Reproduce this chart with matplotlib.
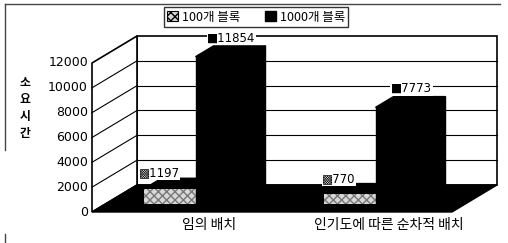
import matplotlib
matplotlib.use("Agg")
import matplotlib.pyplot as plt
from matplotlib.patches import Polygon, Patch

plt.rcParams['font.family'] = ['Noto Sans CJK KR', 'DejaVu Sans']

# data
categories = ['임의 배치', '인기도에 따른 순차적 배치']
series_names = ['100개 블록', '1000개 블록']
blocks_100 = [1197, 770]
blocks_1000 = [11854, 7773]
y_ticks = [0, 2000, 4000, 6000, 8000, 10000, 12000]

# geometry (x in pixels, y in value units)
VPP = 12000 / 149.0          # value per pixel
X0, CAT_W, BW = 92, 180, 52
DX, DY = 45, 27 * VPP        # depth offset
D0, D1 = 0.3, 0.7            # bar depth range
YMAX = 12000

fig = plt.figure(figsize=(5.08, 2.43), dpi=100)
ax = fig.add_axes([0, 0, 1, 1])
ax.set_xlim(0, 508)
ax.set_ylim(-(243 - 212) * VPP, 212 * VPP)
ax.axis('off')

x_right = X0 + CAT_W * len(categories)

# walls
ax.add_patch(Polygon([(X0 + DX, DY), (x_right + DX, DY), (x_right + DX, YMAX + DY),
                      (X0 + DX, YMAX + DY)], closed=True, fc='white', ec='black', lw=1.2))
ax.add_patch(Polygon([(X0, 0), (X0 + DX, DY), (X0 + DX, YMAX + DY), (X0, YMAX)],
                     closed=True, fc='white', ec='black', lw=1.2))
for v in y_ticks[1:-1]:
    ax.plot([X0 + DX, x_right + DX], [v + DY, v + DY], color='black', lw=0.8)
    ax.plot([X0, X0 + DX], [v, v + DY], color='black', lw=0.8)
# floor
ax.add_patch(Polygon([(X0, 0), (x_right, 0), (x_right + DX, DY), (X0 + DX, DY)],
                     closed=True, fc='black', ec='black'))

# y tick labels
for v in y_ticks:
    ax.text(X0 - 4, v, str(v), ha='right', va='center', fontsize=9, family='DejaVu Sans')
ax.text(25, (212 - 108) * VPP, '소\n요\n시\n간', ha='center', va='center',
        fontsize=8.5, linespacing=1.4, fontweight='bold')


def draw_bar(x, v, front_style):
    fx, fy = x + D0 * DX, D0 * DY
    bx, by = x + D1 * DX, D1 * DY
    ax.add_patch(Polygon([(fx + BW, fy), (bx + BW, by), (bx + BW, v + by), (fx + BW, v + fy)],
                         closed=True, fc='black', ec='black'))
    ax.add_patch(Polygon([(fx, v + fy), (fx + BW, v + fy), (bx + BW, v + by), (bx, v + by)],
                         closed=True, fc='black', ec='black'))
    ax.add_patch(Polygon([(fx, fy), (fx + BW, fy), (fx + BW, v + fy), (fx, v + fy)],
                         closed=True, **front_style))


style_100 = dict(fc='#d8d8d8', ec='#777777', hatch='xxxx', lw=0)
style_1000 = dict(fc='black', ec='black')

for i, cat in enumerate(categories):
    x_cat = X0 + i * CAT_W + (CAT_W - 2 * BW) / 2
    draw_bar(x_cat, blocks_100[i], style_100)
    draw_bar(x_cat + BW, blocks_1000[i], style_1000)

    # value labels
    v0 = blocks_100[i]
    ax.text(x_cat + BW / 2 + 3, v0 + D1 * DY + 5 * VPP, '▩' + str(v0), ha='center', va='center',
            fontsize=8.5, family='DejaVu Sans',
            bbox=dict(fc='white', ec='none', pad=0.5))
    v1 = blocks_1000[i]
    ax.text(x_cat + BW + BW / 2 + D0 * DX + 10, v1 + D1 * DY + 8 * VPP, '■' + str(v1),
            ha='center', va='center', fontsize=8.5, family='DejaVu Sans',
            bbox=dict(fc='white', ec='none', pad=0.5))

    # category labels
    ax.text(X0 + i * CAT_W + CAT_W / 2 + 0.6 * DX, -13 * VPP, cat, ha='center', va='center',
            fontsize=10)

# legend
handles = [Patch(fc='#d8d8d8', ec='black', hatch='xxxx', lw=0.8),
           Patch(fc='black', ec='black')]
fig.legend(handles, series_names, loc='center', bbox_to_anchor=(256 / 508, 1 - 17 / 243),
           ncol=2, fontsize=9, frameon=True, fancybox=False, edgecolor='black',
           handlelength=0.9, handleheight=0.9, handletextpad=0.3, columnspacing=2.0,
           borderpad=0.25)

# outer border remnants
ax.plot([5, 500], [(212 - 4) * VPP] * 2, color='#444444', lw=1)
ax.plot([5, 5], [(212 - 4) * VPP, (212 - 150) * VPP], color='#444444', lw=1)
ax.plot([5, 5], [(212 - 234) * VPP, (212 - 243) * VPP], color='#444444', lw=1)

fig.savefig('out.png', dpi=100)
